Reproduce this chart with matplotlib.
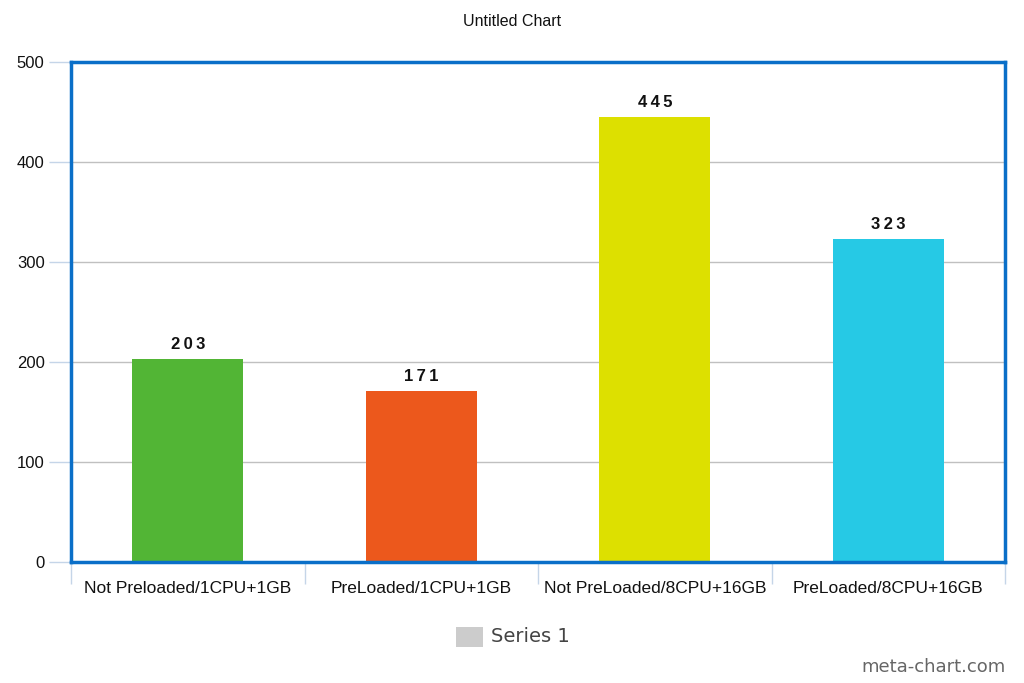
import matplotlib
matplotlib.use("Agg")
import matplotlib.pyplot as plt
from matplotlib.patches import Rectangle

categories = ["Not Preloaded/1CPU+1GB", "PreLoaded/1CPU+1GB",
              "Not PreLoaded/8CPU+16GB", "PreLoaded/8CPU+16GB"]
values = [203, 171, 445, 323]
colors = ["#52b535", "#ec581c", "#dde000", "#26c9e5"]
yticks = [0, 100, 200, 300, 400, 500]

fig = plt.figure(figsize=(10.24, 6.83), dpi=100)
W, H = 1024, 683
l, r, t, b = 71, 1005, 62, 562
ax = fig.add_axes([l / W, 1 - b / H, (r - l) / W, (b - t) / H])

x = list(range(len(categories)))
ax.bar(x, values, width=0.475, color=colors, zorder=3)
for xi, v in zip(x, values):
    ax.text(xi, v + 7, "\u2009".join(str(v)), ha="center", va="bottom",
            fontsize=12, fontweight="bold", family=["Liberation Sans", "DejaVu Sans"],
            color="#111111")

ax.set_xlim(-0.5, 3.5)
ax.set_ylim(0, 500)
ax.set_yticks(yticks)
ax.set_yticklabels([str(v) for v in yticks], family="Liberation Sans", fontsize=12, color="#111111")
ax.yaxis.grid(True, color="#c0c0c0", linewidth=1, zorder=0)
ax.set_axisbelow(True)

ax.set_xticks(x)
ax.set_xticklabels(categories, family="Liberation Sans", fontsize=12.5, color="#111111")
ax.tick_params(axis="x", length=0, pad=14)
ax.tick_params(axis="y", length=16, width=1, color="#c5d5e8", pad=3)

# minor ticks at category boundaries
ax.set_xticks([-0.5, 0.5, 1.5, 2.5, 3.5], minor=True)
ax.tick_params(axis="x", which="minor", length=16, width=1, color="#c5d5e8")

for s in ax.spines.values():
    s.set_color("#0a6fc8")
    s.set_linewidth(2.5)
    s.set_zorder(5)

fig.text(512 / W, 1 - 22 / H, "Untitled Chart", ha="center", va="center",
         fontsize=11.5, family="Liberation Sans", color="#111111")

# legend
fig.patches.append(Rectangle((456 / W, 1 - 647 / H), 27 / W, 20 / H,
                             transform=fig.transFigure, facecolor="#cccccc", edgecolor="none"))
fig.text(491 / W, 1 - 637 / H, "Series 1", ha="left", va="center",
         fontsize=14, family="DejaVu Sans", color="#444444")
fig.text(1006 / W, 1 - 667 / H, "meta-chart.com", ha="right", va="center",
         fontsize=13, family="DejaVu Sans", color="#666666")

fig.savefig("out.png", dpi=100)
